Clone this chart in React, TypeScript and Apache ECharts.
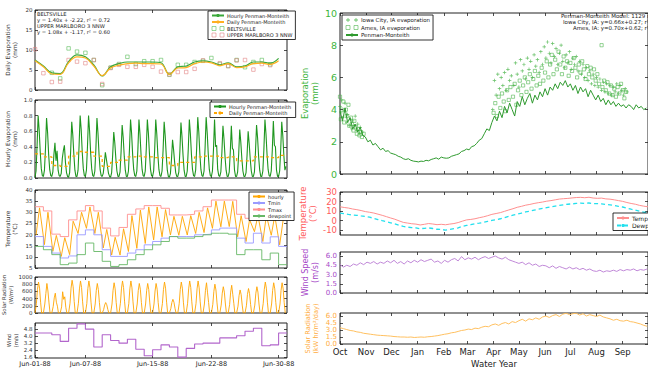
import React, { useEffect, useRef } from "react";
import * as echarts from "echarts";

// ---------- Left column: June 1988 ----------
const LEFT_TICKS = [0, 6, 14, 21, 29];
const LEFT_TICK_LABELS = ["Jun-01-88", "Jun-07-88", "Jun-15-88", "Jun-22-88", "Jun-30-88"];

const DAILY_FROM_HOURLY_PM = [7.5, 6.0, 4.3, 4.1, 7.1, 8.8, 8.3, 6.25, 3.5, 5.8, 6.6, 7.0, 7.0, 7.0, 7.0, 6.8, 3.9, 5.8, 6.0, 7.0, 7.3, 7.0, 6.3, 6.8, 5.8, 6.0, 7.0, 7.0, 6.7, 7.9];
const DAILY_PM = [7.3, 5.8, 4.0, 3.9, 6.8, 8.3, 8.0, 6.0, 3.6, 5.5, 6.2, 6.6, 6.7, 6.6, 6.6, 6.5, 3.9, 5.5, 5.6, 6.6, 7.0, 6.8, 6.1, 6.6, 5.6, 5.8, 6.6, 6.7, 6.4, 7.3];
const BELTSVILLE = [[2, 4.3], [3, 2.9], [4, 10.4], [5, 9.6], [6, 9.3], [7, 7.5], [8, 1.2], [9, 5.6], [10, 6.5], [11, 8.3], [12, 6.5], [13, 7.2], [14, 7.2], [15, 7.5], [16, 3.8], [17, 6.3], [18, 6.3], [19, 7.0], [20, 7.3], [21, 8.0], [22, 6.5], [23, 6.0], [24, 7.5], [25, 5.7], [26, 7.0], [27, 7.5], [28, 6.4]];
const UPPER_MARLBORO = [[0, 10.2], [1, 4.2], [2, 2.0], [3, 2.1], [4, 7.5], [5, 7.1], [6, 6.7], [7, 7.5], [8, 1.5], [9, 5.5], [10, 6.3], [11, 5.8], [12, 5.8], [13, 6.3], [14, 5.8], [15, 4.6], [16, 3.9], [17, 4.5], [18, 4.5], [19, 5.3], [20, 7.4], [22, 6.7], [23, 6.0], [24, 7.4], [25, 7.5], [26, 5.1], [27, 6.5], [28, 6.2]];

const EVAP_HOURS = [0, 3, 6, 9, 12, 15, 18, 21];
const HOURLY_EVAP = [
  [0.01, 0.09, 0.42, 0.80, 0.61, 0.33, 0.12, 0.03],
  [0.02, 0.10, 0.38, 0.77, 0.58, 0.30, 0.11, 0.03],
  [0.02, 0.08, 0.30, 0.45, 0.22, 0.35, 0.10, 0.03],
  [0.02, 0.06, 0.25, 0.35, 0.42, 0.20, 0.07, 0.02],
  [0.01, 0.07, 0.36, 0.72, 0.55, 0.30, 0.10, 0.02],
  [0.02, 0.10, 0.42, 0.80, 0.62, 0.33, 0.12, 0.03],
  [0.02, 0.10, 0.41, 0.80, 0.60, 0.32, 0.12, 0.03],
  [0.02, 0.09, 0.38, 0.77, 0.57, 0.30, 0.11, 0.03],
  [0.02, 0.06, 0.18, 0.33, 0.24, 0.15, 0.06, 0.02],
  [0.01, 0.07, 0.30, 0.59, 0.45, 0.25, 0.09, 0.02],
  [0.02, 0.08, 0.34, 0.68, 0.52, 0.28, 0.10, 0.02],
  [0.02, 0.09, 0.38, 0.75, 0.57, 0.30, 0.11, 0.03],
  [0.02, 0.09, 0.37, 0.75, 0.56, 0.30, 0.11, 0.03],
  [0.02, 0.09, 0.38, 0.75, 0.57, 0.31, 0.11, 0.03],
  [0.02, 0.09, 0.37, 0.75, 0.56, 0.30, 0.11, 0.03],
  [0.02, 0.09, 0.36, 0.72, 0.54, 0.29, 0.10, 0.02],
  [0.01, 0.06, 0.24, 0.49, 0.36, 0.20, 0.07, 0.02],
  [0.02, 0.08, 0.35, 0.71, 0.53, 0.29, 0.10, 0.02],
  [0.02, 0.09, 0.38, 0.75, 0.56, 0.30, 0.11, 0.03],
  [0.02, 0.10, 0.39, 0.78, 0.59, 0.31, 0.11, 0.03],
  [0.02, 0.09, 0.39, 0.78, 0.58, 0.31, 0.11, 0.03],
  [0.02, 0.09, 0.37, 0.75, 0.40, 0.42, 0.11, 0.03],
  [0.02, 0.08, 0.33, 0.67, 0.50, 0.27, 0.10, 0.02],
  [0.02, 0.08, 0.34, 0.67, 0.38, 0.36, 0.10, 0.02],
  [0.02, 0.08, 0.31, 0.62, 0.46, 0.25, 0.09, 0.02],
  [0.02, 0.07, 0.30, 0.60, 0.44, 0.24, 0.09, 0.02],
  [0.02, 0.08, 0.34, 0.68, 0.51, 0.27, 0.10, 0.02],
  [0.02, 0.09, 0.37, 0.75, 0.56, 0.30, 0.11, 0.03],
  [0.02, 0.09, 0.36, 0.73, 0.42, 0.40, 0.10, 0.02],
  [0.02, 0.09, 0.36, 0.72, 0.54, 0.29, 0.10, 0.15],
];
const HOURLY_MEAN_PM = [0.31, 0.27, 0.16, 0.15, 0.28, 0.34, 0.33, 0.28, 0.15, 0.2, 0.23, 0.27, 0.28, 0.27, 0.26, 0.26, 0.16, 0.2, 0.2, 0.27, 0.28, 0.28, 0.26, 0.27, 0.22, 0.22, 0.27, 0.27, 0.26, 0.29];

const TEMP_LOW = [19.8, 15.5, 12.5, 10.2, 11.0, 20.5, 22.8, 20.5, 14.0, 10.8, 10.8, 12.4, 13.8, 16.0, 17.6, 19.0, 19.8, 19.7, 19.8, 20.5, 20.9, 22.8, 23.5, 23.6, 19.0, 16.9, 21.3, 16.9, 19.7, 15.4];
const TEMP_HIGH = [32.0, 30.0, 19.6, 18.6, 26.0, 30.0, 32.4, 30.0, 22.3, 18.8, 22.6, 28.5, 31.0, 32.4, 32.4, 31.2, 28.2, 28.2, 28.5, 30.0, 32.0, 35.0, 35.0, 34.9, 28.5, 26.7, 28.5, 28.5, 28.4, 26.5];
const TMIN = [19.1, 14.7, 11.7, 9.5, 10.4, 19.9, 22.1, 19.9, 13.2, 10.2, 10.2, 11.7, 13.2, 15.4, 16.9, 18.4, 19.1, 19.1, 19.1, 19.9, 20.2, 22.1, 22.9, 22.9, 18.4, 16.2, 20.6, 16.2, 19.0, 14.7];
const TMAX = [32.5, 30.6, 20.2, 19.1, 26.6, 30.6, 33.0, 30.6, 22.9, 19.4, 23.2, 29.1, 31.5, 33.0, 33.0, 31.8, 28.8, 28.8, 29.1, 30.6, 32.5, 35.5, 35.5, 35.5, 29.1, 27.3, 29.1, 29.1, 29.0, 27.0];
const DEWPOINT = [14.7, 13.2, 11.0, 6.5, 7.2, 11.0, 16.2, 12.4, 8.0, 5.7, 6.5, 8.7, 11.0, 13.2, 15.4, 16.9, 19.1, 18.4, 18.4, 19.1, 19.9, 20.6, 20.6, 20.2, 11.0, 13.2, 13.2, 8.7, 11.7, 6.5];

const SOLAR_HOURS = [0, 4, 7, 10, 13, 16, 19];
const SOLAR_ROWS = [
  [0, 260, 650, 860, 690, 300, 0],
  [0, 250, 540, 820, 610, 280, 0],
  [0, 180, 420, 550, 300, 190, 0],
  [0, 170, 590, 380, 450, 160, 0],
  [0, 270, 690, 910, 730, 320, 0],
  [0, 270, 670, 890, 710, 310, 0],
  [0, 260, 680, 890, 700, 300, 0],
  [0, 250, 620, 820, 650, 290, 0],
  [0, 90, 220, 290, 230, 100, 0],
  [0, 250, 630, 840, 670, 290, 0],
  [0, 270, 670, 890, 710, 310, 0],
  [0, 260, 670, 890, 700, 310, 0],
  [0, 250, 620, 820, 660, 290, 0],
  [0, 250, 620, 820, 650, 280, 0],
  [0, 250, 610, 820, 660, 290, 0],
  [0, 260, 650, 860, 690, 300, 0],
  [0, 120, 290, 380, 300, 130, 0],
  [0, 260, 650, 860, 690, 300, 0],
  [0, 270, 670, 890, 710, 310, 0],
  [0, 260, 670, 890, 700, 310, 0],
  [0, 250, 630, 840, 560, 290, 0],
  [0, 240, 600, 800, 640, 280, 0],
  [0, 220, 550, 730, 580, 250, 0],
  [0, 230, 580, 770, 520, 270, 0],
  [0, 190, 480, 640, 510, 220, 0],
  [0, 200, 510, 680, 540, 240, 0],
  [0, 220, 550, 730, 580, 250, 0],
  [0, 260, 650, 860, 690, 300, 0],
  [0, 250, 630, 840, 670, 290, 0],
  [0, 250, 630, 840, 670, 290, 0],
];
const WIND_DAILY = [4.35, 4.35, 4.15, 3.4, 4.9, 5.4, 4.8, 2.75, 4.15, 3.5, 3.2, 3.65, 2.5, 1.75, 2.45, 3.0, 2.75, 1.6, 2.6, 3.1, 3.2, 3.2, 3.8, 3.8, 4.05, 4.55, 4.9, 2.9, 3.0, 4.35];

// ---------- Right column: water year ----------
const MONTH_STARTS = [0, 31, 61, 92, 123, 151, 182, 212, 243, 273, 304, 335];
const MONTHS = ["Oct", "Nov", "Dec", "Jan", "Feb", "Mar", "Apr", "May", "Jun", "Jul", "Aug", "Sep"];

const PM_STEP_DAYS = 3;
const PM_ANNUAL = [3.9, 3.3, 4.1, 3.2, 3.5, 2.8, 3.1, 2.6, 2.9, 2.4, 2.3, 2.0, 2.1, 1.8, 1.9, 1.7, 1.5, 1.6, 1.4, 1.45, 1.3, 1.25, 1.2, 1.1, 1.05, 0.95, 0.9, 0.95, 0.85, 0.8, 0.78, 0.75, 0.8, 0.78, 0.85, 0.82, 0.9, 0.95, 1.0, 0.92, 1.05, 1.0, 0.98, 1.0, 1.1, 1.15, 1.2, 1.25, 1.4, 1.45, 1.55, 1.5, 1.7, 1.75, 1.9, 2.1, 2.2, 2.5, 2.8, 2.7, 3.2, 3.6, 3.3, 3.9, 3.5, 4.2, 3.8, 4.4, 4.0, 3.6, 4.5, 4.2, 4.8, 4.3, 4.7, 5.0, 4.4, 4.9, 4.6, 5.1, 4.8, 5.3, 4.9, 5.4, 5.2, 5.6, 5.3, 5.7, 5.5, 5.8, 5.4, 5.6, 5.2, 5.5, 5.0, 5.4, 5.1, 5.3, 4.8, 5.2, 4.9, 4.6, 4.9, 4.5, 4.7, 4.3, 4.6, 4.3, 4.5, 4.2, 4.4, 4.2, 4.3, 4.1, 4.3, 4.2, 4.0, 4.3, 4.1, 4.2, 4.0, 4.1];

const IOWA_CITY = [[0, 4.2], [1, 3.8], [2, 4.6], [3, 3.5], [5, 3.9], [6, 4.4], [8, 3.2], [9, 3.7], [11, 3.0], [12, 3.4], [14, 2.8], [15, 3.3], [17, 3.0], [18, 3.6], [20, 2.7], [21, 3.1], [23, 2.5], [24, 2.9], [26, 2.6],
  [181, 4.0], [183, 5.8], [185, 4.9], [187, 6.2], [189, 5.3], [191, 6.0], [193, 5.5], [195, 6.3], [197, 5.2], [199, 6.5], [201, 5.8], [203, 6.1], [206, 5.5], [208, 6.9], [210, 6.2], [212, 5.4], [214, 7.1], [216, 6.4], [218, 6.8], [220, 5.9], [222, 7.2], [224, 6.5], [226, 7.0], [228, 6.0], [230, 7.4], [232, 6.7], [234, 7.1], [236, 6.3], [238, 7.6], [240, 6.8], [242, 7.9], [244, 7.2], [246, 8.2], [248, 7.5], [250, 6.9], [252, 8.1], [254, 7.3], [256, 7.8], [258, 6.8], [260, 7.5], [262, 8.0], [264, 7.0], [266, 6.6], [268, 7.4], [270, 6.9], [272, 7.6], [274, 6.5], [276, 7.2], [278, 6.8], [280, 7.3], [282, 6.4], [284, 7.0], [286, 6.2], [288, 6.8], [290, 6.0], [292, 6.6], [294, 5.8], [296, 6.4], [298, 5.6], [300, 6.2], [302, 5.5], [304, 6.0], [306, 5.4], [308, 5.9], [310, 5.2], [312, 5.7], [314, 5.1], [316, 5.6], [318, 5.0], [320, 5.5], [322, 4.9], [324, 5.4], [326, 5.1], [328, 5.6], [330, 5.0], [332, 5.5], [334, 5.2], [336, 4.9], [338, 5.3], [340, 5.1]];
const AMES = [[0, 4.8], [1, 3.4], [2, 4.0], [4, 4.5], [5, 3.2], [7, 4.0], [8, 3.6], [10, 4.3], [11, 3.0], [13, 3.5], [14, 3.1], [16, 2.7], [17, 3.3], [19, 2.9], [20, 2.5], [22, 2.8], [23, 2.4], [25, 2.6], [26, 2.3], [28, 2.5],
  [182, 3.8], [184, 4.4], [186, 3.6], [188, 4.8], [190, 4.1], [192, 5.0], [194, 4.5], [196, 3.9], [198, 5.2], [200, 4.6], [202, 5.4], [205, 4.8], [207, 5.6], [209, 4.3], [211, 5.2], [213, 5.8], [215, 4.9], [217, 5.5], [219, 6.0], [221, 5.1], [223, 5.7], [225, 6.2], [227, 5.3], [229, 5.9], [231, 6.4], [233, 5.5], [235, 6.1], [237, 5.6], [239, 6.6], [241, 5.8], [243, 6.3], [245, 7.0], [247, 6.0], [249, 6.8], [251, 7.4], [253, 6.2], [255, 7.1], [257, 6.5], [259, 7.6], [261, 6.8], [263, 6.2], [265, 7.3], [267, 6.6], [269, 7.0], [271, 6.1], [273, 6.9], [275, 6.4], [277, 7.2], [279, 6.6], [281, 6.0], [283, 6.8], [285, 6.3], [287, 7.0], [289, 6.5], [291, 5.9], [293, 6.7], [295, 6.2], [297, 6.6], [299, 6.0], [301, 6.5], [303, 5.8], [305, 6.2], [307, 5.6], [310, 8.0], [311, 5.4], [313, 5.8], [315, 5.2], [317, 5.7], [319, 5.0], [321, 5.5], [323, 4.9], [325, 5.3], [327, 4.8], [329, 5.4], [331, 5.0], [333, 5.6], [335, 5.2], [337, 4.7], [339, 5.1]];

const MET_STEP_DAYS = 5;
const TEMP_ANNUAL = [14.5, 13.8, 13.2, 12.2, 11.5, 10.6, 9.5, 8.8, 8.0, 6.8, 5.6, 4.2, 2.8, 1.5, -0.2, -1.8, -2.5, -3.2, -3.6, -4.5, -3.8, -3.0, -3.5, -4.2, -3.8, -4.3, -3.6, -3.0, -2.0, -0.5, 0.8, 1.3, 2.0, 3.1, 4.0, 5.2, 6.6, 7.5, 8.4, 9.8, 11.2, 12.5, 14.0, 15.0, 16.2, 17.0, 18.0, 18.8, 19.5, 20.4, 21.0, 21.8, 22.6, 23.0, 23.3, 23.8, 24.2, 24.4, 24.0, 24.5, 23.7, 23.4, 23.6, 22.8, 22.5, 21.8, 21.0, 20.2, 19.0, 18.0, 17.2, 16.0, 15.2, 14.5];
const DEW_ANNUAL = [8.0, 7.2, 6.5, 6.0, 5.6, 5.0, 4.5, 3.6, 2.5, 1.2, 0.0, -1.0, -2.2, -3.4, -4.8, -6.0, -6.8, -7.2, -7.5, -8.4, -8.0, -7.6, -8.2, -9.0, -9.3, -9.8, -9.2, -8.3, -7.6, -6.0, -5.0, -4.2, -3.2, -2.6, -1.8, -0.8, 0.2, 1.0, 2.0, 3.2, 4.6, 5.8, 7.0, 8.0, 9.2, 10.0, 11.0, 12.0, 12.8, 13.6, 14.4, 15.2, 16.0, 16.6, 17.2, 17.6, 18.0, 18.4, 18.0, 18.5, 17.9, 17.8, 17.6, 17.0, 16.6, 15.9, 15.0, 14.3, 13.2, 12.0, 11.0, 9.8, 9.0, 8.2];

const WS_STEP_DAYS = 4;
const WIND_ANNUAL = [4.6, 4.2, 4.5, 4.3, 4.7, 4.5, 4.9, 4.6, 5.0, 4.8, 5.1, 4.7, 5.0, 4.8, 5.2, 4.9, 5.3, 4.8, 5.1, 4.7, 5.2, 4.9, 5.3, 5.0, 5.4, 5.1, 5.3, 5.5, 5.0, 5.2, 4.8, 5.3, 5.0, 5.4, 5.6, 5.2, 5.9, 5.4, 5.7, 5.5, 5.8, 5.4, 5.7, 5.9, 5.6, 5.8, 6.0, 5.7, 5.5, 5.8, 5.4, 5.2, 5.0, 4.8, 5.0, 4.6, 4.9, 4.5, 4.7, 4.3, 4.5, 4.4, 4.1, 4.4, 4.0, 4.3, 4.1, 3.9, 4.2, 3.9, 4.1, 3.8, 4.0, 3.7, 3.9, 3.6, 3.5, 3.7, 3.4, 3.6, 3.5, 3.7, 3.5, 3.8, 3.6, 3.8, 3.7, 3.9, 3.6, 3.8, 3.7, 3.9];
const SOLAR_ANNUAL = [3.5, 3.3, 3.1, 2.9, 2.8, 2.6, 2.5, 2.3, 2.2, 2.1, 2.0, 1.9, 1.85, 1.8, 1.75, 1.7, 1.6, 1.55, 1.5, 1.5, 1.45, 1.5, 1.4, 1.45, 1.5, 1.45, 1.55, 1.6, 1.7, 1.8, 1.95, 2.1, 2.2, 2.4, 2.5, 2.7, 2.9, 3.0, 3.2, 3.1, 3.4, 3.3, 3.6, 3.8, 3.7, 4.1, 4.3, 4.0, 4.4, 4.6, 4.3, 4.8, 4.6, 5.0, 5.3, 4.9, 5.4, 5.2, 5.6, 5.3, 5.8, 6.0, 5.7, 6.1, 6.3, 5.9, 6.4, 6.6, 6.3, 6.5, 6.6, 6.2, 6.5, 6.0, 6.3, 6.1, 5.9, 6.2, 5.8, 5.6, 5.4, 5.1, 5.3, 5.0, 4.9, 5.1, 4.8, 4.7, 4.5, 4.3, 4.0, 3.8];

const LEFT_NOTE = ["BELTSVILLE", "y = 1.40x + -2.22, r² = 0.72", "UPPER MARLBORO 3 NNW", "y = 1.08x + -1.17, r² = 0.60"];
const RIGHT_NOTE = ["Penman-Monteith Model: 1129 mm", "Iowa City, IA: y=0.66x+0.27; r²=0.63", "Ames, IA: y=0.70x+0.62; r²=0.56"];

// ---------- colours ----------
const ORANGE = "#ffa500";
const PINK = "#ff8f8f";
const BLUE = "#9a9aff";
const PURPLE = "#b266cc";
const CYAN = "#22e0ee";
const AX = "#222";

const TWO_SQUARES = "path://M0,0h4v4h-4zM8,0h4v4h-4z";
const TWO_PLUSES = "path://M1.6,0h0.8v1.6h1.6v0.8h-1.6v1.6h-0.8v-1.6h-1.6v-0.8h1.6zM9.6,0h0.8v1.6h1.6v0.8h-1.6v1.6h-0.8v-1.6h-1.6v-0.8h1.6z";
const PLUS = "path://M4,0h2v4h4v2h-4v4h-2v-4h-4v-2h4z";

function buildOption(): any {
  const grids = [
    [35, 252, 10, 80],
    [35, 252, 100, 78],
    [35, 252, 190, 78],
    [35, 252, 277, 36],
    [35, 252, 323, 35],
    [340, 330, 13, 161],
    [340, 330, 192, 43],
    [340, 330, 252, 41],
    [340, 330, 313, 40],
  ].map(([left, width, top, height]) => ({ left, width, top, height, show: true, borderColor: AX, borderWidth: 1, backgroundColor: "transparent" }));

  const xAxis: any[] = [];
  const yAxis: any[] = [];
  grids.forEach((_, g) => {
    const right = g >= 5;
    const ticks = right ? MONTH_STARTS : LEFT_TICKS;
    const labels = right ? MONTHS : LEFT_TICK_LABELS;
    const showLab = g === 4 || g === 8;
    const tick = { show: true, inside: true, length: 3, customValues: ticks, lineStyle: { color: AX, width: 0.8 } };
    const base = { type: "value", gridIndex: g, min: 0, max: right ? 365 : 30, axisLine: { show: false, onZero: false }, splitLine: { show: false }, axisTick: tick };
    xAxis.push({
      ...base,
      position: "bottom",
      axisLabel: showLab
        ? { show: true, customValues: ticks, formatter: (v: number) => labels[ticks.indexOf(v)] ?? "", fontSize: right ? 8.5 : 6.5, color: AX, margin: right ? 3 : 2, fontFamily: "DejaVu Sans", hideOverlap: false }
        : { show: false },
      ...(g === 8 ? { name: "Water Year", nameLocation: "middle", nameGap: 15, nameTextStyle: { fontSize: 8.5, color: AX, fontFamily: "DejaVu Sans" } } : {}),
    });
    xAxis.push({ ...base, position: "top", axisLabel: { show: false } });
  });

  const ySpecs: any[] = [
    { min: 0, max: 20, ticks: [0, 5, 10, 15, 20], d: 0, name: "Daily Evaporation\n(mm)", color: "#333", nf: 5.8, lf: 5.5, gap: 16 },
    { min: 0, max: 1, ticks: [0, 0.2, 0.4, 0.6, 0.8, 1.0], d: 1, name: "Hourly Evaporation\n(mm)", color: "#333", nf: 5.8, lf: 5.5, gap: 16 },
    { min: 5, max: 40, ticks: [5, 10, 15, 20, 25, 30, 35, 40], d: 0, name: "Temperature\n(°C)", color: "#333", nf: 5.8, lf: 5.5, gap: 16 },
    { min: 0, max: 1000, ticks: [0, 200, 400, 600, 800, 1000], d: 0, name: "Solar Radiation\n(W/m²)", color: "#333", nf: 5.3, lf: 5.5, gap: 17 },
    { min: 1.5, max: 5.5, ticks: [1.6, 2.4, 3.2, 4.0, 4.8], d: 1, name: "Wind\n(m/s)", color: "#333", nf: 5.3, lf: 5.5, gap: 16 },
    { min: 0, max: 10, ticks: [0, 2, 4, 6, 8, 10], d: 0, name: "Evaporation\n(mm)", color: "#3cb43c", nf: 8.5, lf: 9.5, gap: 20 },
    { min: -15, max: 30, ticks: [-10, 0, 10, 20, 30], d: 0, name: "Temperature\n(°C)", color: "#ff5a5a", nf: 8.5, lf: 8.5, gap: 22 },
    { min: 0, max: 6.65, ticks: [0, 1.5, 3.0, 4.5, 6.0], d: 1, name: "Wind Speed\n(m/s)", color: "#a648c8", nf: 8, lf: 7, gap: 20 },
    { min: 0, max: 6.65, ticks: [0, 1.5, 3.0, 4.5, 6.0], d: 1, name: "Solar Radiation\n(kW hr/m²/day)", color: "#ffac40", nf: 6.6, lf: 7, gap: 20 },
  ];
  ySpecs.forEach((s, g) => {
    const right = g >= 5;
    const tick = { show: true, inside: true, length: 3, customValues: s.ticks, lineStyle: { color: AX, width: 0.8 } };
    const base = { type: "value", gridIndex: g, min: s.min, max: s.max, axisLine: { show: false, onZero: false }, splitLine: { show: false }, axisTick: tick };
    yAxis.push({
      ...base,
      position: "left",
      axisLabel: {
        show: true,
        customValues: s.ticks,
        formatter: (v: number) => v.toFixed(s.d),
        fontSize: s.lf,
        lineHeight: s.lf,
        color: s.color,
        margin: right ? 3 : 2.5,
        fontFamily: "DejaVu Sans",
        hideOverlap: false,
        showMinLabel: true,
        showMaxLabel: true,
      },
      name: s.name,
      nameLocation: "middle",
      nameRotate: 90,
      nameGap: s.gap,
      nameTextStyle: { fontSize: s.nf, lineHeight: s.nf + 1.5, color: s.color, fontFamily: "DejaVu Sans", align: "center" },
    });
    yAxis.push({ ...base, position: "right", axisLabel: { show: false } });
  });

  const line = (name: string, g: number, data: any[], color: string, extra: any = {}) => {
    const { lineStyle, ...rest } = extra;
    return {
      type: "line",
      name,
      xAxisIndex: 2 * g,
      yAxisIndex: 2 * g,
      data,
      symbol: "none",
      silent: true,
      itemStyle: { color },
      lineStyle: { color, width: 1, ...(lineStyle || {}) },
      ...rest,
    };
  };
  const hollow = (name: string, g: number, data: any[], color: string, size: number) => ({
    type: "scatter",
    name,
    xAxisIndex: 2 * g,
    yAxisIndex: 2 * g,
    data,
    symbol: "rect",
    symbolSize: size,
    silent: true,
    itemStyle: { color: "rgba(255,255,255,0)", borderColor: color, borderWidth: 0.7 },
  });
  const daily = (arr: number[]) => arr.map((v, i) => [i, v]);
  const steps = (arr: number[]) => [...arr.map((v, i) => [i, v]), [arr.length, arr[arr.length - 1]]];

  const hourlyEvap = HOURLY_EVAP.flatMap((row, d) => row.map((v, k) => [d + EVAP_HOURS[k] / 24, v]));
  const hourlyTemp = TEMP_LOW.flatMap((lo, d) => [[d + 3 / 24, lo], [d + 13 / 24, TEMP_HIGH[d]]]);
  const hourlySolar = SOLAR_ROWS.flatMap((row, d) => row.map((v, k) => [d + SOLAR_HOURS[k] / 24, v]));
  const spaced = (arr: number[], step: number) => arr.map((v, i) => [i * step, v]);

  const series = [
    line("Hourly Penman-Monteith", 0, daily(DAILY_FROM_HOURLY_PM), "#3aa83a", { smooth: 0.4, lineStyle: { width: 1.2 } }),
    line("Daily Penman-Monteith", 0, daily(DAILY_PM), "#ffb020", { smooth: 0.4, lineStyle: { width: 1.2 } }),
    hollow("BELTSVILLE", 0, BELTSVILLE, "#4cb84c", 3.5),
    hollow("UPPER MARLBORO 3 NNW", 0, UPPER_MARLBORO, "#e07a7a", 3.5),

    line("Hourly Penman-Monteith ", 1, hourlyEvap, "#1f961f", { lineStyle: { width: 1.1 } }),
    line("Daily Penman-Monteith ", 1, steps(HOURLY_MEAN_PM), ORANGE, { step: "end", lineStyle: { width: 1.3, type: [3, 3] } }),

    line("hourly", 2, hourlyTemp, ORANGE, { lineStyle: { width: 0.9 } }),
    line("Tmin", 2, steps(TMIN), BLUE, { step: "end", lineStyle: { width: 0.9 } }),
    line("Tmax", 2, steps(TMAX), PINK, { step: "end", lineStyle: { width: 0.9 } }),
    line("dewpoint", 2, steps(DEWPOINT), "#66b866", { step: "end", lineStyle: { width: 0.9 } }),

    line("Solar", 3, hourlySolar, ORANGE, { lineStyle: { width: 0.9 } }),
    line("Wind", 4, steps(WIND_DAILY), PURPLE, { step: "end", lineStyle: { width: 1.1 } }),

    {
      type: "scatter",
      name: "Iowa City, IA evaporation",
      xAxisIndex: 10,
      yAxisIndex: 10,
      data: IOWA_CITY,
      symbol: PLUS,
      symbolSize: 3.5,
      silent: true,
      itemStyle: { color: "#40b040" },
    },
    hollow("Ames, IA evaporation", 5, AMES, "#40b040", 3.2),
    line("Penman-Monteith", 5, spaced(PM_ANNUAL, PM_STEP_DAYS), "#2f9a2f", { lineStyle: { width: 1 } }),

    line("Temperature", 6, spaced(TEMP_ANNUAL, MET_STEP_DAYS), PINK, { lineStyle: { width: 1 } }),
    line("Dewpoint", 6, spaced(DEW_ANNUAL, MET_STEP_DAYS), CYAN, { lineStyle: { width: 1.3, type: [4, 3] } }),
    line("Wind Speed", 7, spaced(WIND_ANNUAL, WS_STEP_DAYS), "#c088d8", { lineStyle: { width: 1 } }),
    line("Solar Radiation", 8, spaced(SOLAR_ANNUAL, WS_STEP_DAYS), "#ffc060", { lineStyle: { width: 1 } }),
  ];

  const legend = (left: number, top: number, data: any[], fontSize: number) => ({
    show: true,
    left,
    top,
    orient: "vertical",
    data,
    selectedMode: false,
    itemWidth: 12,
    itemHeight: 4,
    itemGap: 1.5,
    padding: [2, 3],
    borderColor: "#000",
    borderWidth: 0.8,
    backgroundColor: "#fff",
    textStyle: { fontSize, color: "#222", fontFamily: "DejaVu Sans", padding: [0, 0, 0, -2] },
  });
  const sq = (name: string, color: string) => ({ name, icon: TWO_SQUARES, itemStyle: { color: "rgba(255,255,255,0)", borderColor: color, borderWidth: 0.7 } });

  const legends = [
    legend(208, 11, ["Hourly Penman-Monteith", "Daily Penman-Monteith", sq("BELTSVILLE", "#4cb84c"), sq("UPPER MARLBORO 3 NNW", "#e07a7a")], 5),
    legend(210, 102, ["Hourly Penman-Monteith ", "Daily Penman-Monteith "], 5),
    legend(249, 192, ["hourly", "Tmin", "Tmax", "dewpoint"], 5),
    legend(342, 15, [{ name: "Iowa City, IA evaporation", icon: TWO_PLUSES }, sq("Ames, IA evaporation", "#40b040"), "Penman-Monteith"], 5.5),
    legend(613, 213, ["Temperature", "Dewpoint"], 6),
  ];

  const graphic = [
    ...LEFT_NOTE.map((t, i) => ({ type: "text", left: 37, top: 11 + i * 6, z: 10, style: { text: t, fontSize: 5.2, fill: "#222", fontFamily: "DejaVu Sans" } })),
    ...RIGHT_NOTE.map((t, i) => ({ type: "text", left: [561, 563, 573][i], top: 13 + i * 6, z: 10, style: { text: t, fontSize: 5.5, fill: "#222", fontFamily: "DejaVu Sans" } })),
  ];

  return {
    animation: false,
    backgroundColor: "#fff",
    grid: grids,
    xAxis,
    yAxis,
    series,
    legend: legends,
    graphic,
  };
}

export default function App() {
  const ref = useRef<HTMLDivElement>(null);
  useEffect(() => {
    const chart = echarts.init(ref.current as HTMLDivElement, null, { renderer: "svg" });
    chart.setOption(buildOption());
    return () => chart.dispose();
  }, []);
  return <div ref={ref} style={{ position: "fixed", left: 0, top: 0, width: 648, height: 369, background: "#fff" }} />;
}
